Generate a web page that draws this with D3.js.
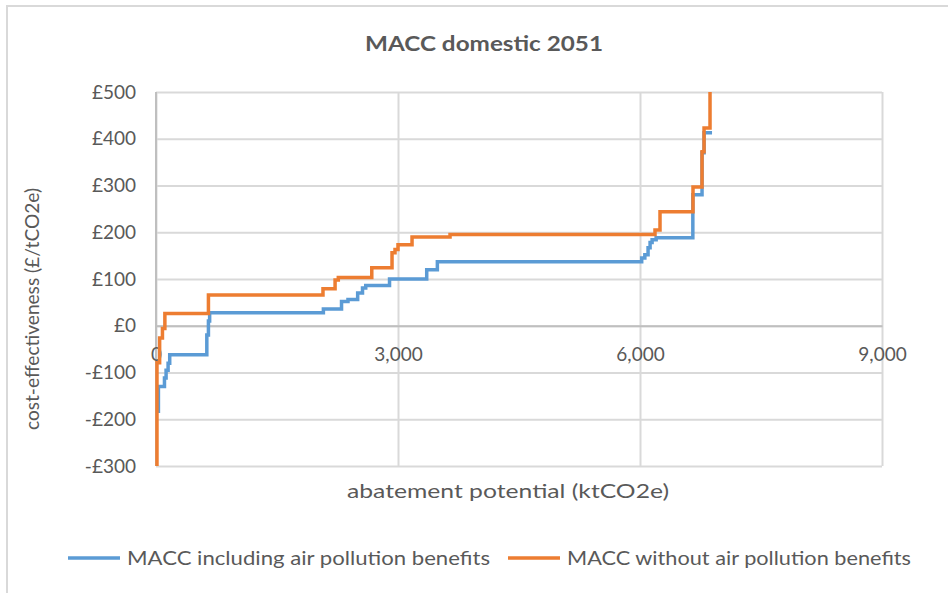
<!DOCTYPE html>
<html>
<head>
<meta charset="utf-8">
<script src="https://cdn.jsdelivr.net/npm/d3@7"></script>
<style>
body { margin: 0; background: #fff; }
text { font-family: Lato, "Open Sans", sans-serif; fill: #595959; }
</style>
</head>
<body>
<div></div>
<script>
var w = 948;
var h = 593;

// axis ticks
var xTicks = [0, 3000, 6000, 9000];
var yTicks = [-300, -200, -100, 0, 100, 200, 300, 400, 500];

// MACC including air pollution benefits (step starts: abatement ktCO2e, cost £/tCO2e)
var inclX = [20, 30, 105, 125, 150, 170, 630, 650, 665, 2075, 2300, 2380, 2500, 2560, 2600, 2895, 3356, 3488, 6021, 6060, 6100, 6125, 6150, 6200, 6655, 6769, 6794, 6893];
var inclY = [-183, -130, -112, -95, -80, -62, -20, 10, 28, 36, 52, 56, 70, 81, 86, 100, 120, 137, 145, 152, 167, 178, 184, 188, 280, 370, 413, 413];

// MACC without air pollution benefits
var withoutX = [0, 12, 45, 80, 110, 650, 2070, 2220, 2260, 2675, 2926, 2963, 3000, 3174, 3645, 6186, 6248, 6657, 6769, 6794, 6868];
var withoutY = [-450, -79, -26, -6, 26, 66, 79, 98, 103, 124, 156, 163, 173, 190, 195, 205, 244, 297, 372, 423, 700];

var seriesNames = ["MACC including air pollution benefits", "MACC without air pollution benefits"];
var seriesColors = ["#5B9BD5", "#ED7D31"];

var svg = d3.select("div").append("svg")
	.attr("width", w)
	.attr("height", h);

// chart border
svg.append("rect")
	.attr("x", 7).attr("y", 6)
	.attr("width", 980).attr("height", 620)
	.attr("fill", "#fff")
	.attr("stroke", "#d9d9d9")
	.attr("stroke-width", 2);

var x = d3.scaleLinear().domain([0, 9000]).range([156, 882]);
var y = d3.scaleLinear().domain([-300, 500]).range([466, 92]);

//gridlines
var yGrid = svg.append("g")
	.attr("transform", "translate(156,0)")
	.call(d3.axisLeft(y).tickValues(yTicks).tickSize(-(882 - 156)).tickPadding(20)
		.tickFormat(function(d) { return d < 0 ? "-£" + Math.abs(d) : "£" + d; }));
yGrid.select(".domain").remove();
yGrid.selectAll("line").attr("stroke", "#d9d9d9").attr("stroke-width", 2);
yGrid.selectAll("text")
	.attr("font-size", 19)
	.attr("font-family", null)
	.style("fill", "#595959");

var xGrid = svg.append("g")
	.attr("transform", "translate(0,466)")
	.call(d3.axisBottom(x).tickValues(xTicks).tickSize(-(466 - 92)).tickFormat(""));
xGrid.select(".domain").remove();
xGrid.selectAll("line").attr("stroke", "#d9d9d9").attr("stroke-width", 2);

// axis lines
svg.append("line")
	.attr("x1", 156).attr("x2", 156)
	.attr("y1", 92).attr("y2", 466)
	.attr("stroke", "#bfbfbf").attr("stroke-width", 2);

var xAxis = svg.append("g")
	.attr("transform", "translate(0," + y(0) + ")")
	.call(d3.axisBottom(x).tickValues(xTicks).tickSize(0).tickPadding(22).tickFormat(d3.format(",")));
xAxis.select(".domain").attr("stroke", "#bfbfbf").attr("stroke-width", 2);
xAxis.selectAll("text")
	.attr("font-size", 19)
	.attr("font-family", null)
	.style("fill", "#595959");

// series
svg.append("clipPath").attr("id", "plotClip")
	.append("rect").attr("x", 150).attr("y", 92).attr("width", 740).attr("height", 374);

var line = d3.line()
	.x(function(d) { return x(d[0]); })
	.y(function(d) { return y(d[1]); })
	.curve(d3.curveStepAfter);

var series = [d3.zip(inclX, inclY), d3.zip(withoutX, withoutY)];

svg.append("g").attr("clip-path", "url(#plotClip)")
	.selectAll("path")
	.data(series)
	.enter()
	.append("path")
	.attr("d", line)
	.attr("fill", "none")
	.attr("stroke", function(d, i) { return seriesColors[i]; })
	.attr("stroke-width", 3.5);

// titles
svg.append("text")
	.attr("x", 484).attr("y", 51)
	.attr("text-anchor", "middle")
	.attr("font-size", 20)
	.attr("font-weight", "bold")
	.attr("textLength", 238)
	.attr("lengthAdjust", "spacingAndGlyphs")
	.text("MACC domestic 2051");

svg.append("text")
	.attr("x", 508).attr("y", 498)
	.attr("text-anchor", "middle")
	.attr("font-size", 20)
	.attr("textLength", 322)
	.attr("lengthAdjust", "spacingAndGlyphs")
	.text("abatement potential (ktCO2e)");

svg.append("text")
	.attr("transform", "translate(39,309) rotate(-90)")
	.attr("text-anchor", "middle")
	.attr("font-size", 20)
	.attr("textLength", 242)
	.attr("lengthAdjust", "spacingAndGlyphs")
	.text("cost-effectiveness (£/tCO2e)");

// legend
var legendX = [68, 508];
var legend = svg.selectAll("g.legend")
	.data(seriesNames)
	.enter()
	.append("g")
	.attr("class", "legend")
	.attr("transform", function(d, i) { return "translate(" + legendX[i] + ",558)"; });

legend.append("line")
	.attr("x1", 0).attr("x2", 52)
	.attr("stroke", function(d, i) { return seriesColors[i]; })
	.attr("stroke-width", 3.5);

legend.append("text")
	.attr("x", 59).attr("y", 7)
	.attr("font-size", 20)
	.attr("textLength", function(d, i) { return i == 0 ? 363 : 344; })
	.attr("lengthAdjust", "spacingAndGlyphs")
	.text(function(d) { return d; });
</script>
</body>
</html>
